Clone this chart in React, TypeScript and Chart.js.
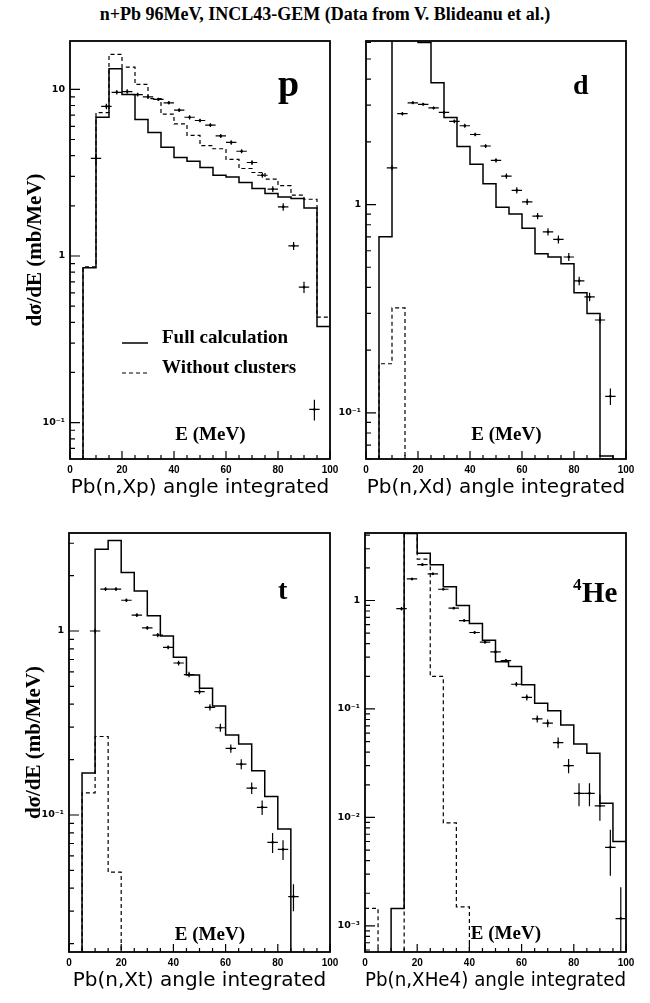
import React, { useEffect, useRef } from "react";
import { Chart, registerables } from "chart.js";

Chart.register(...registerables);

// ---------- data ----------
const BIN_EDGES = [0, 5, 10, 15, 20, 25, 30, 35, 40, 45, 50, 55, 60, 65, 70, 75, 80, 85, 90, 95, 100];
const X_TICK_VALUES = [0, 20, 40, 60, 80, 100];
const DATA_E_HALF = 2;

// proton
const P_FULL = [0, 0.85, 6.8, 13.3, 9.3, 6.6, 5.5, 4.5, 3.9, 3.7, 3.4, 3.05, 2.98, 2.76, 2.54, 2.37, 2.26, 2.21, 1.94, 0.377];
const P_NOCL = [0, 0.86, 7.25, 16.2, 13.6, 10.7, 8.8, 7.1, 6.2, 5.3, 4.6, 4.4, 3.8, 3.35, 3.17, 2.89, 2.64, 2.32, 2.19, 0.43];
const P_DATA_E = [10, 14, 18, 22, 26, 30, 34, 38, 42, 46, 50, 54, 58, 62, 66, 70, 74, 78, 82, 86, 90, 94];
const P_DATA_Y = [3.85, 7.9, 9.6, 9.7, 9.3, 9.0, 8.7, 8.3, 7.5, 6.8, 6.5, 6.1, 5.25, 4.8, 4.25, 3.64, 3.05, 2.52, 1.97, 1.15, 0.65, 0.12];
const P_DATA_ERR = [0.25, 0.3, 0.3, 0.3, 0.25, 0.25, 0.2, 0.2, 0.2, 0.2, 0.15, 0.15, 0.15, 0.15, 0.12, 0.12, 0.1, 0.1, 0.1, 0.065, 0.05, 0.017];
const P_DECADES = [0.1, 1, 10];

// deuteron
const D_FULL = [0, 0.70, 14, 9, 6.0, 3.84, 2.62, 1.90, 1.56, 1.26, 0.97, 0.90, 0.77, 0.58, 0.56, 0.52, 0.377, 0.30, 0.062, 0];
const D_NOCL = [0, 0.172, 0.319, 0, 0, 0, 0, 0, 0, 0, 0, 0, 0, 0, 0, 0, 0, 0, 0, 0];
const D_DATA_E = [10, 14, 18, 22, 26, 30, 34, 38, 42, 46, 50, 54, 58, 62, 66, 70, 74, 78, 82, 86, 90, 94];
const D_DATA_Y = [1.50, 2.73, 3.08, 3.03, 2.91, 2.77, 2.51, 2.39, 2.17, 1.91, 1.63, 1.37, 1.17, 1.03, 0.88, 0.74, 0.68, 0.56, 0.43, 0.36, 0.279, 0.12];
const D_DATA_ERR = [0.04, 0.05, 0.05, 0.05, 0.05, 0.05, 0.05, 0.05, 0.04, 0.04, 0.04, 0.04, 0.04, 0.035, 0.03, 0.03, 0.03, 0.025, 0.02, 0.017, 0.01, 0.011];
const D_DECADES = [0.1, 1];

// triton
const T_FULL = [0, 0.169, 2.78, 3.10, 2.08, 1.65, 1.21, 0.94, 0.72, 0.577, 0.488, 0.391, 0.272, 0.243, 0.174, 0.126, 0.084, 0, 0, 0];
const T_NOCL = [0, 0.132, 0.267, 0.0489, 0, 0, 0, 0, 0, 0, 0, 0, 0, 0, 0, 0, 0, 0, 0, 0];
const T_DATA_E = [10, 14, 18, 22, 26, 30, 34, 38, 42, 46, 50, 54, 58, 62, 66, 70, 74, 78, 82, 86];
const T_DATA_Y = [1.0, 1.69, 1.69, 1.47, 1.22, 1.04, 0.95, 0.815, 0.67, 0.58, 0.468, 0.385, 0.298, 0.230, 0.189, 0.140, 0.110, 0.071, 0.065, 0.036];
const T_DATA_ERR = [0.03, 0.04, 0.04, 0.03, 0.03, 0.025, 0.025, 0.02, 0.02, 0.02, 0.015, 0.015, 0.015, 0.012, 0.012, 0.01, 0.01, 0.0088, 0.008, 0.006];
const T_DECADES = [0.1, 1];

// alpha
const HE_FULL = [0, 0, 0.00145, 4.15, 2.72, 2.14, 1.34, 0.90, 0.615, 0.43, 0.273, 0.246, 0.167, 0.113, 0.0965, 0.0711, 0.0475, 0.039, 0.0135, 0.0060];
const HE_NOCL = [0.00145, 0, 0, 4.15, 2.41, 0.2, 0.0089, 0.0015, 0, 0, 0, 0, 0, 0, 0, 0, 0, 0, 0, 0];
const HE_DATA_E = [14, 18, 22, 26, 30, 34, 38, 42, 46, 50, 54, 58, 62, 66, 70, 74, 78, 82, 86, 90, 94, 98];
const HE_DATA_Y = [0.84, 1.58, 2.14, 1.76, 1.27, 0.85, 0.653, 0.507, 0.413, 0.336, 0.279, 0.169, 0.128, 0.081, 0.074, 0.049, 0.030, 0.0167, 0.0167, 0.0128, 0.0053, 0.00117];
const HE_DATA_ERR = [0.03, 0.04, 0.05, 0.04, 0.03, 0.02, 0.02, 0.015, 0.012, 0.012, 0.01, 0.008, 0.008, 0.006, 0.006, 0.0055, 0.0045, 0.004, 0.004, 0.0035, 0.0024, 0.0011];
const HE_DECADES = [0.001, 0.01, 0.1, 1];

const TITLE = "n+Pb 96MeV, INCL43-GEM (Data from V. Blideanu et al.)";
const Y_TITLE = "dσ/dE (mb/MeV)";
const X_IN_TITLE = "E (MeV)";
const LEGEND_FULL = "Full calculation";
const LEGEND_NOCL = "Without clusters";

// ---------- layout / style ----------
const SERIF = "'Liberation Serif', 'Times New Roman', serif";
const SANS = "'Liberation Sans', Arial, sans-serif";
const ROUND = "'DejaVu Sans', sans-serif";

type Label = { text: string; size: number; dx: number; dy: number };
type PanelCfg = {
  frame: { l: number; t: number; r: number; b: number };
  yMin: number; yMax: number; decades: number[];
  full: number[]; nocl: number[];
  de: number[]; dy: number[]; derr: number[];
  sub: string; yTitle: boolean; labels: Label[]; eBase: number; legend: boolean;
};

const PANELS: PanelCfg[] = [
  { frame: { l: 70, t: 41, r: 330, b: 459 }, yMin: 0.0605, yMax: 19.5, decades: P_DECADES,
    full: P_FULL, nocl: P_NOCL, de: P_DATA_E, dy: P_DATA_Y, derr: P_DATA_ERR,
    sub: "Pb(n,Xp) angle integrated", yTitle: true,
    labels: [{ text: "p", size: 38, dx: -52, dy: 55 }], eBase: 19.5, legend: true },
  { frame: { l: 366, t: 41, r: 626, b: 459 }, yMin: 0.06, yMax: 6.1, decades: D_DECADES,
    full: D_FULL, nocl: D_NOCL, de: D_DATA_E, dy: D_DATA_Y, derr: D_DATA_ERR,
    sub: "Pb(n,Xd) angle integrated", yTitle: false,
    labels: [{ text: "d", size: 28, dx: -53, dy: 52.5 }], eBase: 19.5, legend: false },
  { frame: { l: 69, t: 533, r: 330, b: 952 }, yMin: 0.018, yMax: 3.41, decades: T_DECADES,
    full: T_FULL, nocl: T_NOCL, de: T_DATA_E, dy: T_DATA_Y, derr: T_DATA_ERR,
    sub: "Pb(n,Xt) angle integrated", yTitle: true,
    labels: [{ text: "t", size: 28, dx: -52, dy: 66 }], eBase: 12.5, legend: false },
  { frame: { l: 365, t: 533, r: 626, b: 952 }, yMin: 0.000575, yMax: 4.19, decades: HE_DECADES,
    full: HE_FULL, nocl: HE_NOCL, de: HE_DATA_E, dy: HE_DATA_Y, derr: HE_DATA_ERR,
    sub: "Pb(n,XHe4) angle integrated", yTitle: false,
    labels: [{ text: "4", size: 17, dx: -53, dy: 57 }, { text: "He", size: 29, dx: -44, dy: 69 }], eBase: 13, legend: false },
];

const SUP: Record<string, string> = { "-": "⁻", "0": "⁰", "1": "¹", "2": "²", "3": "³", "4": "⁴", "5": "⁵", "6": "⁶", "7": "⁷", "8": "⁸", "9": "⁹" };
function fmtDecade(v: number): string {
  const e = Math.round(Math.log10(v));
  if (e === 0) return "1";
  if (e === 1) return "10";
  return "10" + String(e).split("").map((c) => SUP[c]).join("");
}

function histPoints(vals: number[], floor: number) {
  const pts = vals.map((v, i) => ({ x: BIN_EDGES[i], y: v > 0 ? v : floor }));
  const last = vals[vals.length - 1];
  pts.push({ x: BIN_EDGES[vals.length], y: last > 0 ? last : floor });
  return pts;
}

function makeDecor(cfg: PanelCfg) {
  return {
    id: "rootDecor",
    afterDatasetsDraw(chart: any) {
      const { ctx, chartArea: a } = chart;
      const xs = chart.scales.x;
      const ys = chart.scales.y;
      ctx.save();
      // error bars
      chart.data.datasets.forEach((ds: any, di: number) => {
        if (!ds.errY) return;
        const meta = chart.getDatasetMeta(di);
        ctx.save();
        ctx.beginPath();
        ctx.rect(a.left, a.top, a.right - a.left, a.bottom - a.top);
        ctx.clip();
        ctx.strokeStyle = "#000";
        ctx.lineWidth = 1.2;
        ds.data.forEach((p: any, j: number) => {
          const el = meta.data[j];
          const e = ds.errY[j];
          const lo = p.y - e > 0 ? ys.getPixelForValue(p.y - e) : a.bottom + 20;
          const hi = ys.getPixelForValue(p.y + e);
          const l = xs.getPixelForValue(p.x - ds.errX);
          const r = xs.getPixelForValue(p.x + ds.errX);
          ctx.beginPath();
          ctx.moveTo(l, el.y);
          ctx.lineTo(r, el.y);
          ctx.moveTo(el.x, lo);
          ctx.lineTo(el.x, hi);
          ctx.stroke();
        });
        ctx.restore();
      });
      // ticks
      ctx.strokeStyle = "#000";
      ctx.lineWidth = 1.2;
      ctx.beginPath();
      for (let v = 0; v <= 100; v += 5) {
        const px = xs.getPixelForValue(v);
        const len = v % 20 === 0 ? 8 : 4;
        ctx.moveTo(px, a.bottom);
        ctx.lineTo(px, a.bottom - len);
      }
      const lo = Math.floor(Math.log10(cfg.yMin));
      const hi = Math.ceil(Math.log10(cfg.yMax));
      for (let e = lo; e <= hi; e++) {
        for (let m = 1; m <= 9; m++) {
          const v = m * Math.pow(10, e);
          if (v < cfg.yMin || v > cfg.yMax) continue;
          const py = ys.getPixelForValue(v);
          const len = m === 1 ? 10 : 5;
          ctx.moveTo(a.left, py);
          ctx.lineTo(a.left + len, py);
        }
      }
      ctx.stroke();
      // frame
      ctx.lineWidth = 1.8;
      ctx.strokeRect(a.left, a.top, a.right - a.left, a.bottom - a.top);
      // texts
      ctx.fillStyle = "#000";
      ctx.textBaseline = "alphabetic";
      ctx.textAlign = "center";
      ctx.font = `bold 19px ${SERIF}`;
      ctx.fillText(X_IN_TITLE, xs.getPixelForValue(54), a.bottom - cfg.eBase);
      ctx.textAlign = "left";
      cfg.labels.forEach((lb) => {
        ctx.font = `bold ${lb.size}px ${SERIF}`;
        ctx.fillText(lb.text, a.right + lb.dx, a.top + lb.dy);
      });
      if (cfg.legend) {
        ctx.font = `bold 19px ${SERIF}`;
        const y1 = a.top + 302;
        const y2 = a.top + 332;
        ctx.lineWidth = 1.5;
        ctx.beginPath();
        ctx.moveTo(a.left + 52, y1);
        ctx.lineTo(a.left + 78, y1);
        ctx.stroke();
        ctx.setLineDash([4, 3]);
        ctx.lineWidth = 1.2;
        ctx.beginPath();
        ctx.moveTo(a.left + 52, y2);
        ctx.lineTo(a.left + 78, y2);
        ctx.stroke();
        ctx.setLineDash([]);
        ctx.fillText(LEGEND_FULL, a.left + 92, y1);
        ctx.fillText(LEGEND_NOCL, a.left + 92, y2);
      }
      ctx.restore();
    },
  };
}

function Panel({ cfg }: { cfg: PanelCfg }) {
  const ref = useRef<HTMLCanvasElement>(null);
  const cl = cfg.frame.l - 70;
  const ct = cfg.frame.t - 11;
  const cw = cfg.frame.r + 15 - cl;
  const ch = cfg.frame.b + 50 - ct;

  useEffect(() => {
    const floor = cfg.yMin / 1000;
    const chart = new Chart(ref.current as HTMLCanvasElement, {
      type: "line",
      data: {
        datasets: [
          {
            label: "data",
            type: "scatter",
            data: cfg.de.map((e, i) => ({ x: e, y: cfg.dy[i] })),
            errY: cfg.derr,
            errX: DATA_E_HALF,
            pointRadius: 1.3,
            pointBackgroundColor: "#000",
            pointBorderWidth: 0,
            showLine: false,
          } as any,
          {
            label: LEGEND_FULL,
            data: histPoints(cfg.full, floor),
            stepped: "before",
            borderColor: "#000",
            borderWidth: 1.5,
            pointRadius: 0,
            fill: false,
          },
          {
            label: LEGEND_NOCL,
            data: histPoints(cfg.nocl, floor),
            stepped: "before",
            borderColor: "#000",
            borderWidth: 1.2,
            borderDash: [4, 3],
            pointRadius: 0,
            fill: false,
          },
        ],
      },
      options: {
        animation: false,
        responsive: false,
        maintainAspectRatio: false,
        events: [],
        layout: { padding: { left: 0, top: 11, right: 15, bottom: 0 } },
        plugins: { legend: { display: false }, tooltip: { enabled: false }, title: { display: false } },
        scales: {
          x: {
            type: "linear",
            min: 0,
            max: 100,
            position: "bottom",
            afterBuildTicks: (s: any) => { s.ticks = X_TICK_VALUES.map((v) => ({ value: v })); },
            afterFit: (s: any) => { s.height = 50; s.paddingLeft = 0; s.paddingRight = 0; s.paddingTop = 0; s.paddingBottom = 0; },
            grid: { display: false, drawTicks: false },
            border: { display: false },
            ticks: { autoSkip: false, maxRotation: 0, padding: 5, color: "#000", font: { family: SANS, weight: "bold", size: 10 } },
            title: { display: true, text: cfg.sub, color: "#000", font: { family: ROUND, size: 20 }, padding: { top: 0, bottom: 9 } },
          },
          y: {
            type: "logarithmic",
            min: cfg.yMin,
            max: cfg.yMax,
            position: "left",
            afterBuildTicks: (s: any) => { s.ticks = cfg.decades.map((v) => ({ value: v })); },
            afterFit: (s: any) => { s.width = 70; s.paddingLeft = 0; s.paddingRight = 0; s.paddingTop = 0; s.paddingBottom = 0; },
            grid: { display: false, drawTicks: false },
            border: { display: false },
            ticks: { autoSkip: false, padding: 5, color: "#000", font: { family: ROUND, weight: "bold", size: 9.5 }, callback: (v: any) => fmtDecade(Number(v)) },
            title: { display: cfg.yTitle, text: Y_TITLE, color: "#000", font: { family: SERIF, weight: "bold", size: 21 }, padding: { top: 23, bottom: 0 } },
          },
        },
      } as any,
      plugins: [makeDecor(cfg)],
    });
    return () => chart.destroy();
  }, []);

  return (
    <div style={{ position: "absolute", left: cl, top: ct, width: cw, height: ch }}>
      <canvas ref={ref} width={cw} height={ch} style={{ width: cw, height: ch, display: "block" }} />
    </div>
  );
}

export default function App() {
  return (
    <div style={{ position: "absolute", left: 0, top: 0, width: 650, height: 1003, background: "#fff", overflow: "hidden" }}>
      <div style={{ position: "absolute", left: 0, top: 5, width: 650, textAlign: "center", font: `bold 18px/18px ${SERIF}`, color: "#000", whiteSpace: "nowrap" }}>
        {TITLE}
      </div>
      {PANELS.map((p, i) => (
        <Panel key={i} cfg={p} />
      ))}
    </div>
  );
}
